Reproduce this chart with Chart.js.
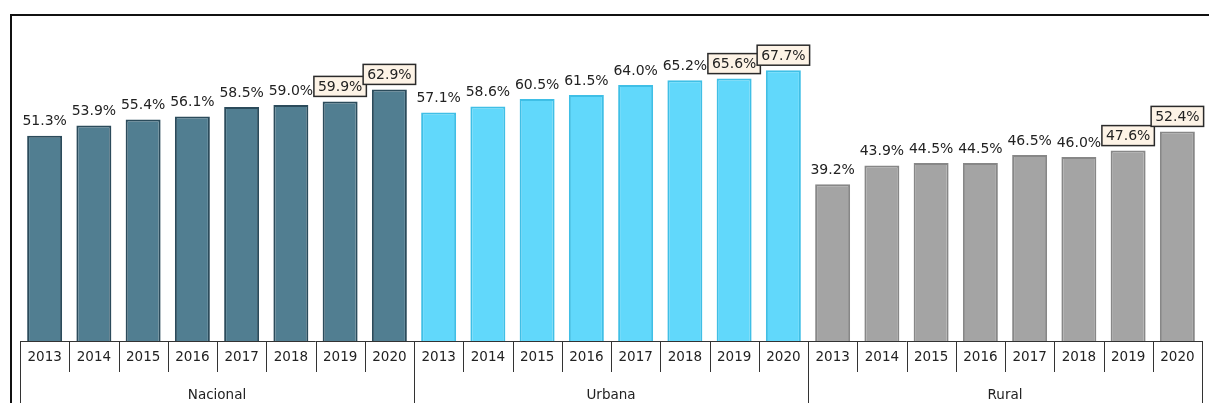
<!DOCTYPE html>
<html>
<head>
<meta charset="utf-8">
<script src="https://cdn.jsdelivr.net/npm/chart.js@4/dist/chart.umd.min.js"></script>
<style>
  html, body { margin: 0; padding: 0; background: #fff; }
  #cadre { width: 1209px; height: 403px; }
</style>
</head>
<body>
<div id="cadre"><canvas id="diagramme"></canvas></div>
<script>
// Données
const annees = ['2013', '2014', '2015', '2016', '2017', '2018', '2019', '2020'];
const zones = ['Nacional', 'Urbana', 'Rural'];
const nacional = [51.3, 53.9, 55.4, 56.1, 58.5, 59.0, 59.9, 62.9];
const urbana = [57.1, 58.6, 60.5, 61.5, 64.0, 65.2, 65.6, 67.7];
const rural = [39.2, 43.9, 44.5, 44.5, 46.5, 46.0, 47.6, 52.4];
const anneesEncadrees = ['2019', '2020'];

const couleursFond = ['#517e91', '#61d8fb', '#a4a4a4'];
const couleursBord = ['#2b4b5b', '#3fbfe6', '#878787'];
const police = '"DejaVu Sans", sans-serif';

// Construire les catégories à partir des tableaux
const series = [nacional, urbana, rural];
const etiquettes = [];
const valeurs = [];
const fonds = [];
const bords = [];
zones.forEach((zone, z) => {
  annees.forEach((annee, i) => {
    etiquettes.push(annee);
    valeurs.push(series[z][i]);
    fonds.push(couleursFond[z]);
    bords.push(couleursBord[z]);
  });
});

// Cadre, tableau de l'axe et étiquettes de valeurs
const pluginTableau = {
  id: 'tableau',
  beforeDraw(chart) {
    const ctx = chart.ctx;
    ctx.save();
    ctx.strokeStyle = '#111';
    ctx.lineWidth = 2;
    ctx.beginPath();
    ctx.moveTo(11, 403);
    ctx.lineTo(11, 15);
    ctx.lineTo(1209, 15);
    ctx.stroke();
    ctx.restore();
  },
  afterDraw(chart) {
    const ctx = chart.ctx;
    const x = chart.scales.x;
    const area = chart.chartArea;
    const bas = area.bottom;
    const n = etiquettes.length;
    const largeur = (x.getPixelForValue(1) - x.getPixelForValue(0));
    ctx.save();
    ctx.strokeStyle = '#333';
    ctx.lineWidth = 1;
    ctx.beginPath();
    ctx.moveTo(area.left, bas + 0.5);
    ctx.lineTo(area.right, bas + 0.5);
    for (let i = 0; i <= n; i++) {
      const px = Math.round(x.getPixelForValue(i) - largeur / 2) + 0.5;
      const finGroupe = i % annees.length === 0;
      ctx.moveTo(px, bas);
      ctx.lineTo(px, finGroupe ? 403 : bas + 31);
    }
    ctx.stroke();

    ctx.fillStyle = '#222';
    ctx.textAlign = 'center';
    ctx.textBaseline = 'middle';
    ctx.font = '13.5px ' + police;
    etiquettes.forEach((a, i) => {
      ctx.fillText(a, x.getPixelForValue(i), bas + 16);
    });
    zones.forEach((zone, z) => {
      const debut = x.getPixelForValue(z * annees.length);
      const fin = x.getPixelForValue((z + 1) * annees.length - 1);
      ctx.fillText(zone, (debut + fin) / 2, bas + 54);
    });

    // Étiquettes au-dessus des barres
    ctx.font = '14px ' + police;
    const meta = chart.getDatasetMeta(0);
    meta.data.forEach((barre, i) => {
      const texte = valeurs[i].toFixed(1) + '%';
      const cx = barre.x;
      const haut = barre.y;
      if (anneesEncadrees.includes(etiquettes[i])) {
        const w = ctx.measureText(texte).width + 8;
        const h = 20;
        const y0 = haut - 25;
        ctx.fillStyle = '#fdf3e6';
        ctx.fillRect(cx - w / 2, y0, w, h);
        ctx.strokeStyle = '#2a2a2a';
        ctx.lineWidth = 1.5;
        ctx.strokeRect(cx - w / 2, y0, w, h);
        ctx.fillStyle = '#222';
        ctx.fillText(texte, cx, y0 + h / 2 + 1);
      } else {
        ctx.fillStyle = '#222';
        ctx.fillText(texte, cx, haut - 14);
      }
    });
    ctx.restore();
  }
};

new Chart(document.getElementById('diagramme'), {
  type: 'bar',
  data: {
    labels: etiquettes,
    datasets: [{
      data: valeurs,
      backgroundColor: fonds,
      borderColor: bords,
      borderWidth: 2,
      categoryPercentage: 1,
      barPercentage: 0.71,
    }],
  },
  options: {
    responsive: true,
    maintainAspectRatio: false,
    animation: false,
    layout: { padding: { left: 20, right: 7, top: 21, bottom: 62 } },
    plugins: {
      legend: { display: false },
      tooltip: { enabled: false },
    },
    scales: {
      x: { display: false },
      y: { display: false, min: 0, max: 80 },
    },
  },
  plugins: [pluginTableau],
});
</script>
</body>
</html>
